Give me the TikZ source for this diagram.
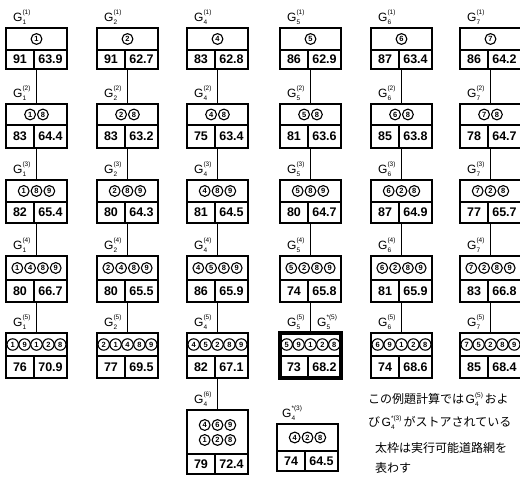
\documentclass[tikz,border=0pt]{standalone}
\usepackage{fontspec}
\setmainfont{Liberation Sans}
\newfontfamily\jp{Noto Sans CJK JP}
\usetikzlibrary{calc}
\tikzset{
  x=1pt, y=-1pt,
  gb/.style={draw, line width=1.3pt, minimum width=61pt, inner sep=0pt, outer sep=0pt},
  innerline/.style={line width=1.1pt},
  conn/.style={line width=1pt},
  cn/.style={circle, draw, line width=1.1pt, inner sep=0pt, font=\bfseries\fontsize{7.5}{7.5}\selectfont},
  num/.style={font=\bfseries\fontsize{12.5}{12.5}\selectfont, inner sep=0pt},
  glab/.style={font=\fontsize{12}{12}\selectfont, inner sep=0pt, anchor=base west},
  jtxt/.style={font=\jp\fontsize{12}{12}\selectfont, inner sep=0pt, anchor=base west},
  thickbox/.style={line width=3.2pt},
}
\newcommand\Gsym[3][]{G\rlap{\raisebox{6.8pt}{\fontsize{6.5}{6.5}\selectfont #1(#3)}}\raisebox{-3pt}{\fontsize{6.5}{6.5}\selectfont #2}\hspace{4pt}}
\newcommand\gbox[7]{% name, x, y, total h, top h, left, right
  \node[gb, minimum height=#4pt, anchor=north west] (#1) at (#2,#3) {};
  \draw[innerline] ($(#1.north west)+(0,#5)$) -- ($(#1.north east)+(0,#5)$);
  \draw[innerline] ($(#1.north west)+(28,#5)$) -- ($(#1.south west)+(28,0)$);
  \pgfmathsetmacro\bc{#3+(#4+#5)/2}
  \node[num] (#1l) at (#2+14,\bc) {#6};
  \node[num] (#1r) at (#2+44.5,\bc) {#7};
}
\newcommand\crow[5]{% prefix, cx, cy, n, list
  \pgfmathsetmacro\csp{#4>4?11.9:12.8}
  \pgfmathsetmacro\csz{#4>4?11.4:10.8}
  \foreach \d [count=\i] in {#5} {
    \node[cn, minimum size=\csz pt] (#1\i) at ({#2+(\i-(#4+1)/2)*\csp}, #3) {\d};
  }
}
\newcommand\rowdata[1]{\ifcase#1\or
  \def\ry{28}\def\rh{41}\def\rt{22}\or
  \def\ry{104}\def\rh{44}\def\rt{21}\or
  \def\ry{180}\def\rh{43}\def\rt{22}\or
  \def\ry{256}\def\rh{46}\def\rt{24}\or
  \def\ry{333}\def\rh{45}\def\rt{23}\fi}
\newcommand\cell[8]{% name, x, row, n, list, left, right, sub
  \rowdata{#3}%
  \gbox{#1}{#2}{\ry}{\rh}{\rt}{#6}{#7}%
  \crow{#1c}{#2+30.5}{\ry+\rt/2}{#4}{#5}%
  \node[glab] (#1g) at (#2+7,\ry-6.5) {\Gsym{#8}{#3}};
}
\begin{document}
\begin{tikzpicture}
\useasboundingbox (0,0) rectangle (520,478);
% column 1
\cell{a1}{6}{1}{1}{1}{91}{63.9}{1}
\cell{a2}{6}{2}{2}{1,8}{83}{64.4}{1}
\cell{a3}{6}{3}{3}{1,8,9}{82}{65.4}{1}
\cell{a4}{6}{4}{4}{1,4,8,9}{80}{66.7}{1}
\cell{a5}{6}{5}{5}{1,9,1,2,8}{76}{70.9}{1}
% column 2
\cell{b1}{97}{1}{1}{2}{91}{62.7}{2}
\cell{b2}{97}{2}{2}{2,8}{83}{63.2}{2}
\cell{b3}{97}{3}{3}{2,8,9}{80}{64.3}{2}
\cell{b4}{97}{4}{4}{2,4,8,9}{80}{65.5}{2}
\cell{b5}{97}{5}{5}{2,1,4,8,9}{77}{69.5}{2}
% column 3
\cell{c1}{187}{1}{1}{4}{83}{62.8}{4}
\cell{c2}{187}{2}{2}{4,8}{75}{63.4}{4}
\cell{c3}{187}{3}{3}{4,8,9}{81}{64.5}{4}
\cell{c4}{187}{4}{4}{4,5,8,9}{86}{65.9}{4}
\cell{c5}{187}{5}{5}{4,5,2,8,9}{82}{67.1}{4}
% column 4
\cell{d1}{280}{1}{1}{5}{86}{62.9}{5}
\cell{d2}{280}{2}{2}{5,8}{81}{63.6}{5}
\cell{d3}{280}{3}{3}{5,8,9}{80}{64.7}{5}
\cell{d4}{280}{4}{4}{5,2,8,9}{74}{65.8}{5}
\cell{d5}{280}{5}{5}{5,9,1,2,8}{73}{68.2}{5}
% column 5
\cell{e1}{371}{1}{1}{6}{87}{63.4}{6}
\cell{e2}{371}{2}{2}{6,8}{85}{63.8}{6}
\cell{e3}{371}{3}{3}{6,2,8}{87}{64.9}{6}
\cell{e4}{371}{4}{4}{6,2,8,9}{81}{65.9}{6}
\cell{e5}{371}{5}{5}{6,9,1,2,8}{74}{68.6}{6}
% column 6
\cell{f1}{460}{1}{1}{7}{86}{64.2}{7}
\cell{f2}{460}{2}{2}{7,8}{78}{64.7}{7}
\cell{f3}{460}{3}{3}{7,2,8}{77}{65.7}{7}
\cell{f4}{460}{4}{4}{7,2,8,9}{83}{66.8}{7}
\cell{f5}{460}{5}{5}{7,5,2,8,9}{85}{68.4}{7}
% thick frame
\draw[thickbox] (d5.north west) rectangle (d5.south east);
\node[glab] (d5s) at (280+37,333-6.5) {\Gsym[*]{5}{5}};
% column 3, row 6
\gbox{c6}{187}{410}{64}{44}{79}{72.4}
\crow{c6a}{217.5}{425}{3}{4,6,9}
\crow{c6b}{217.5}{440}{3}{1,2,8}
\node[glab] (c6g) at (194,403.5) {\Gsym{4}{6}};
% stored G4*(3)
\gbox{g1}{277}{424}{47}{27}{74}{64.5}
\crow{g1c}{307.5}{437.5}{3}{4,2,8}
\node[glab] (g1g) at (282,417.5) {\Gsym[*]{4}{3}};
% connectors
\foreach \c in {a,b,c,d,e,f}{
  \foreach \r [evaluate=\r as \n using int(\r+1)] in {1,...,4}{
    \draw[conn] (\c\r.south) -- (\c\n.north);
  }
}
\draw[conn] (c5.south) -- (c6.north);
% notes
\node[jtxt] (t1) at (368,404) {この例題計算では\hspace{1.5pt}{\rmfamily\Gsym{4}{5}}\hspace{2pt}およ};
\node[jtxt] (t2) at (368,427) {び\hspace{1.5pt}{\rmfamily\Gsym[*]{4}{3}}\hspace{5pt}がストアされている};
\node[jtxt] (t3) at (375,453) {太枠は実行可能道路網を};
\node[jtxt] (t4) at (375,473) {表わす};
\end{tikzpicture}
\end{document}
